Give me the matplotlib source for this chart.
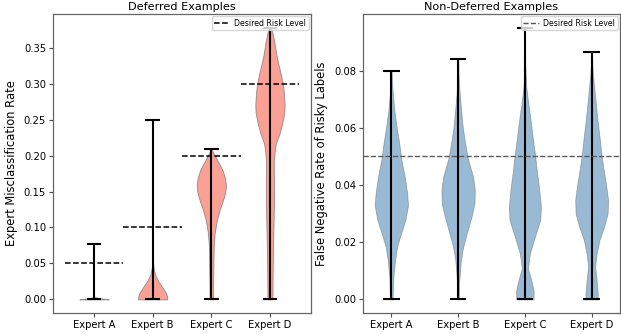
import numpy as np
import matplotlib
matplotlib.use("Agg")
import matplotlib.pyplot as plt

experts = ["Expert A", "Expert B", "Expert C", "Expert D"]

# ---------------- Deferred examples (left) ----------------
def_risk = [0.05, 0.10, 0.20, 0.30]
def_min = [0.0, 0.0, 0.0, 0.0]
def_max = [0.077, 0.25, 0.209, 0.378]
# density profiles: y values and half-widths
def_A_y = [0.0, 0.001, 0.002, 0.003, 0.004]
def_A_w = [0.25, 0.17, 0.07, 0.02, 0.0]
def_B_y = [0.0, 0.005, 0.01, 0.015, 0.02, 0.025, 0.03, 0.035, 0.04, 0.045, 0.05, 0.07, 0.1, 0.25]
def_B_w = [0.25, 0.245, 0.22, 0.18, 0.14, 0.10, 0.065, 0.04, 0.025, 0.015, 0.008, 0.003, 0.0015, 0.001]
def_C_y = [0.0, 0.017, 0.045, 0.073, 0.092, 0.110, 0.124, 0.138, 0.150, 0.159, 0.170, 0.180, 0.194, 0.203, 0.209]
def_C_w = [0.03, 0.03, 0.035, 0.04, 0.057, 0.094, 0.14, 0.20, 0.24, 0.25, 0.23, 0.19, 0.10, 0.04, 0.005]
def_D_y = [0.0, 0.03, 0.06, 0.10, 0.14, 0.17, 0.19, 0.205, 0.217, 0.23, 0.245, 0.26, 0.27, 0.285, 0.30,
           0.315, 0.325, 0.34, 0.35, 0.36, 0.37, 0.378]
def_D_w = [0.043, 0.045, 0.05, 0.06, 0.07, 0.068, 0.065, 0.08, 0.10, 0.16, 0.21, 0.245, 0.25, 0.24, 0.22,
           0.18, 0.15, 0.11, 0.09, 0.07, 0.045, 0.02]

# ---------------- Non-deferred examples (right) ----------------
nd_risk = 0.05
nd_min = [0.0, 0.0, 0.0, 0.0]
nd_max = [0.080, 0.084, 0.095, 0.0863]
nd_A_y = [0.0, 0.0021, 0.0079, 0.0138, 0.0184, 0.0231, 0.0278, 0.033, 0.0371, 0.0429, 0.0488, 0.0546,
          0.060, 0.066, 0.071, 0.075, 0.080]
nd_A_w = [0.02, 0.022, 0.03, 0.055, 0.085, 0.145, 0.21, 0.25, 0.236, 0.20, 0.15, 0.117,
          0.08, 0.045, 0.025, 0.012, 0.004]
nd_B_y = [0.0, 0.006, 0.0079, 0.0138, 0.0184, 0.0231, 0.0289, 0.0336, 0.0383, 0.0429, 0.0488, 0.0546,
          0.060, 0.066, 0.073, 0.078, 0.084]
nd_B_w = [0.01, 0.015, 0.022, 0.042, 0.075, 0.13, 0.20, 0.245, 0.25, 0.224, 0.15, 0.104,
          0.07, 0.045, 0.02, 0.008, 0.003]
nd_C_y = [0.0, 0.0033, 0.0068, 0.0109, 0.0161, 0.0219, 0.0278, 0.0324, 0.0394, 0.0453, 0.051, 0.057,
          0.0628, 0.0686, 0.0744, 0.082, 0.095]
nd_C_w = [0.13, 0.13, 0.095, 0.045, 0.075, 0.15, 0.23, 0.24, 0.21, 0.177, 0.15, 0.115,
          0.085, 0.05, 0.02, 0.006, 0.002]
nd_D_y = [0.0, 0.0021, 0.0068, 0.0114, 0.0161, 0.0208, 0.0254, 0.0301, 0.0348, 0.0394, 0.0453, 0.051,
          0.057, 0.0628, 0.0686, 0.075, 0.080, 0.0863]
nd_D_w = [0.09, 0.092, 0.075, 0.052, 0.075, 0.117, 0.187, 0.24, 0.246, 0.22, 0.18, 0.144,
          0.117, 0.087, 0.062, 0.035, 0.015, 0.004]

def_profiles = [(def_A_y, def_A_w), (def_B_y, def_B_w), (def_C_y, def_C_w), (def_D_y, def_D_w)]
nd_profiles = [(nd_A_y, nd_A_w), (nd_B_y, nd_B_w), (nd_C_y, nd_C_w), (nd_D_y, nd_D_w)]

TICK_FS = 7.2
LABEL_FS = 8.3
TITLE_FS = 8.1
LEG_FS = 5.6

fig = plt.figure(figsize=(6.21, 3.34), dpi=100)
ax1 = fig.add_axes([53 / 621, 21 / 334, 258 / 621, 299 / 334])
ax2 = fig.add_axes([363 / 621, 21 / 334, 257 / 621, 299 / 334])

positions = np.arange(1, len(experts) + 1)


def draw_violins(ax, profiles, mins, maxs, face, alpha):
    for pos, (ys, ws), lo, hi in zip(positions, profiles, mins, maxs):
        ys = np.asarray(ys)
        ws = np.asarray(ws)
        ax.fill_betweenx(ys, pos - ws, pos + ws, facecolor=face, alpha=alpha,
                         edgecolor="0.45", linewidth=0.6, zorder=2)
        ax.vlines(pos, lo, hi, color="black", linewidth=1.5, zorder=3)
        ax.hlines([lo, hi], pos - 0.125, pos + 0.125, color="black", linewidth=1.5, zorder=3)


draw_violins(ax1, def_profiles, def_min, def_max, "salmon", 0.75)
for i, (pos, r) in enumerate(zip(positions, def_risk)):
    ax1.hlines(r, pos - 0.5, pos + 0.5, colors="black", linestyles="--", linewidth=1.1,
               label="Desired Risk Level" if i == 0 else None, zorder=4)
ax1.set_xlim(0.3, 4.7)
ax1.set_ylim(-0.0189, 0.3969)
ax1.set_yticks([0.0, 0.05, 0.10, 0.15, 0.20, 0.25, 0.30, 0.35])
ax1.set_yticklabels(["0.00", "0.05", "0.10", "0.15", "0.20", "0.25", "0.30", "0.35"])
ax1.set_title("Deferred Examples", fontsize=TITLE_FS, pad=3)
ax1.set_ylabel("Expert Misclassification Rate", fontsize=LABEL_FS, labelpad=4)
ax1.legend(loc="upper right", fontsize=LEG_FS, borderpad=0.3, handletextpad=0.6, borderaxespad=0.3)

draw_violins(ax2, nd_profiles, nd_min, nd_max, "steelblue", 0.55)
ax2.axhline(nd_risk, color="0.35", linestyle="--", linewidth=1.0, label="Desired Risk Level", zorder=4)
ax2.set_xlim(0.575, 4.425)
ax2.set_ylim(-0.00475, 0.09975)
ax2.set_yticks([0.0, 0.02, 0.04, 0.06, 0.08])
ax2.set_yticklabels(["0.00", "0.02", "0.04", "0.06", "0.08"])
ax2.set_title("Non-Deferred Examples", fontsize=TITLE_FS, pad=3)
ax2.set_ylabel("False Negative Rate of Risky Labels", fontsize=LABEL_FS, labelpad=4)
ax2.legend(loc="upper right", fontsize=LEG_FS, borderpad=0.3, handletextpad=0.6, borderaxespad=0.3)

for ax in (ax1, ax2):
    ax.set_xticks(positions)
    ax.set_xticklabels(experts)
    ax.tick_params(labelsize=TICK_FS, length=3, width=0.8, color="0.3", pad=2)
    for s in ax.spines.values():
        s.set_color("0.4")
        s.set_linewidth(0.9)

fig.savefig("out.png", dpi=100)
